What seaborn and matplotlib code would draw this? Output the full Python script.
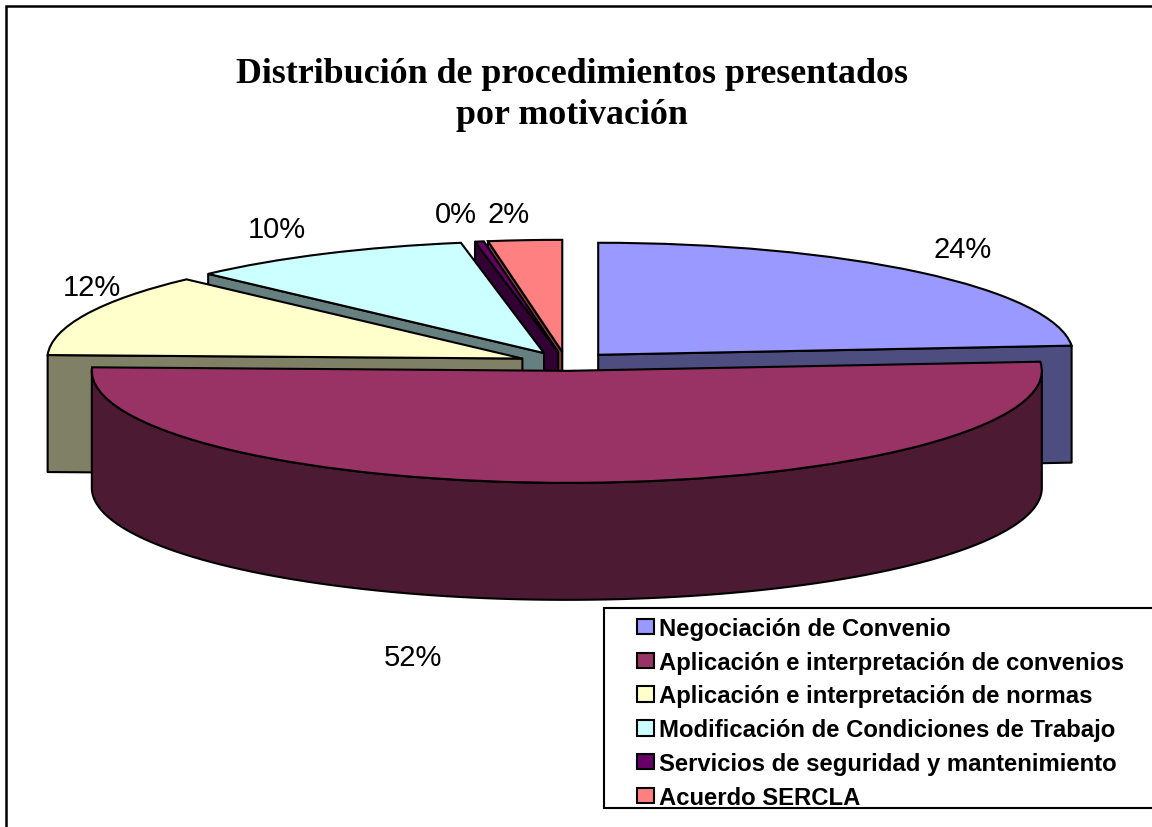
import numpy as np
import matplotlib
matplotlib.use('Agg')
import matplotlib.pyplot as plt
from matplotlib.colors import to_rgb
from matplotlib.patches import Rectangle
import seaborn as sns

# Datos del gráfico
motivos = ['Negociación de Convenio',
           'Aplicación e interpretación de convenios',
           'Aplicación e interpretación de normas',
           'Modificación de Condiciones de Trabajo',
           'Servicios de seguridad y mantenimiento',
           'Acuerdo SERCLA']
porcentajes = [23.7, 51.8, 12.0, 9.7, 0.3, 2.5]
colores_hex = ['#9999FF', '#993366', '#FFFFCC', '#CCFFFF', '#660066', '#FF8080']
titulo = 'Distribución de procedimientos presentados\npor motivación'

ANCHO, ALTO = 1152, 828
CENTRO = (566, 364)   # centro de la tarta, en píxeles
RADIO_X, RADIO_Y = 475, 112
PROFUNDIDAD = 117 / RADIO_Y
GROSOR = 1.5

sns.set_theme(style='white')
plt.rcParams['font.family'] = ['Liberation Sans', 'DejaVu Sans']
colores = sns.color_palette(colores_hex)

fig = plt.figure(figsize=(ANCHO / 100, ALTO / 100), dpi=100, facecolor='white')
ax = fig.add_axes([0, 0, 1, 1])


def px(x, y):
    # pasa de píxeles de la imagen a fracción de figura
    return x / ANCHO, 1 - y / ALTO


wedges, _ = ax.pie(porcentajes, explode=[0.1, 0.07, 0.1, 0.1, 0.1, 0.1], startangle=90,
                   counterclock=False, colors=colores,
                   wedgeprops={'edgecolor': 'black', 'linewidth': GROSOR})

ax.set_xlim(-CENTRO[0] / RADIO_X, (ANCHO - CENTRO[0]) / RADIO_X)
ax.set_ylim(-(ALTO - CENTRO[1]) / RADIO_Y, CENTRO[1] / RADIO_Y)
ax.set_aspect('auto')
ax.axis('off')


def pared(xs, ys, color, z):
    # extruye hacia abajo una línea de la cara superior
    xs, ys = np.asarray(xs), np.asarray(ys)
    ax.fill(np.r_[xs, xs[::-1]], np.r_[ys, ys[::-1] - PROFUNDIDAD],
            facecolor=np.array(to_rgb(color)) * 0.5, edgecolor='black',
            linewidth=GROSOR, zorder=z, joinstyle='round')


# se pinta de atrás hacia delante
orden = sorted(range(len(wedges)), key=lambda i: -wedges[i].center[1])
for n, i in enumerate(orden):
    w = wedges[i]
    cx, cy = w.center
    z = 2 * n + 2
    w.set_zorder(z + 1)
    # caras de corte que miran hacia el observador
    for ang, visible in ((w.theta1, np.cos(np.radians(w.theta1)) > 1e-6),
                         (w.theta2, np.cos(np.radians(w.theta2)) < -1e-6)):
        if visible:
            t = np.radians(ang)
            pared([cx, cx + np.cos(t)], [cy, cy + np.sin(t)], colores[i], z)
    # parte exterior curva, solo la mitad inferior
    t = np.radians(np.linspace(w.theta1, w.theta2, 300))
    t = t[np.sin(t) < 0]
    if len(t) > 1:
        pared(cx + np.cos(t), cy + np.sin(t), colores[i], z)

# Etiquetas de porcentaje
pos_etiquetas = [(963, 250), (413, 658), (92, 288), (277, 230), (456, 215), (509, 215)]
for v, (x, y) in zip(porcentajes, pos_etiquetas):
    fx, fy = px(x, y)
    fig.text(fx, fy, f'{v:.0f}%', ha='center', va='center', fontsize=21,
             color='black', zorder=30)

# Título
fx, fy = px(572, 95)
fig.text(fx, fy, titulo, ha='center', va='center', family='Liberation Serif',
         fontweight='bold', fontsize=25.8, color='black', linespacing=1.3)

# Marco exterior y caja de la leyenda: a la derecha y abajo se salen de la imagen
x0, y0 = px(6, 840)
x1, y1 = px(1165, 7)
fig.add_artist(Rectangle((x0, y0), x1 - x0, y1 - y0, transform=fig.transFigure,
                         fill=False, edgecolor='black', linewidth=1.8))
x0, y0 = px(604, 809)
x1, y1 = px(1165, 609)
fig.add_artist(Rectangle((x0, y0), x1 - x0, y1 - y0, transform=fig.transFigure,
                         facecolor='white', edgecolor='black', linewidth=1.5, zorder=20))

leg = fig.legend(wedges, motivos, loc='upper left', bbox_to_anchor=px(637, 618),
                 frameon=False, borderpad=0, borderaxespad=0, labelspacing=0.45,
                 handlelength=0.71, handleheight=0.62, handletextpad=0.22,
                 labelcolor='black',
                 prop={'family': 'Liberation Sans', 'weight': 'bold', 'size': 17.2})
leg.set_zorder(25)
for h in leg.get_patches():
    h.set_linewidth(1.5)

fig.savefig('out.png', dpi=100)
